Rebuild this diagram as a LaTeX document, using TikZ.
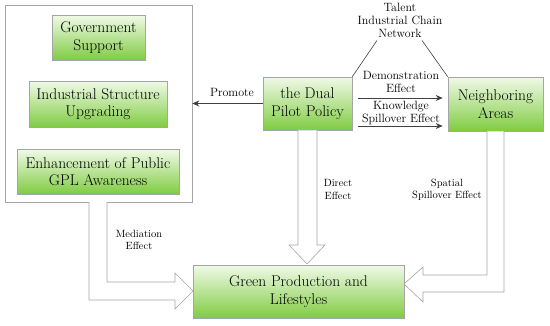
\documentclass[tikz,border=0pt]{standalone}
\usetikzlibrary{arrows.meta,calc,shadows}
\definecolor{gtop}{RGB}{240,250,232}
\definecolor{gbot}{RGB}{128,204,66}
\definecolor{edgegray}{RGB}{165,165,165}
\definecolor{arrgray}{RGB}{64,64,64}
\tikzset{
  gbox/.style={draw=edgegray, line width=0.6pt, top color=gtop, bottom color=gbot,
    align=center, inner sep=0pt, font=\fontsize{15.5}{17.5}\selectfont,
    drop shadow={shadow xshift=1pt, shadow yshift=-1pt, opacity=0.25, fill=gray}},
  lbl/.style={align=center, inner sep=0pt, font=\fontsize{10.5}{12.5}\selectfont},
  lblb/.style={align=center, inner sep=0pt, font=\fontsize{12}{13}\selectfont},
  arr/.style={draw=arrgray, line width=0.8pt, -{Stealth[length=7pt,width=6pt]}},
  hollow/.style={draw=edgegray, line width=0.6pt, fill=white, line join=miter},
}
\begin{document}
\begin{tikzpicture}[x=1pt,y=-1pt]
\useasboundingbox (0,0) rectangle (550,325);
% outer group box
\node[draw=edgegray, line width=0.6pt, minimum width=187pt, minimum height=197pt, inner sep=0pt] (group) at (98.5,103.5) {};
\node[gbox, minimum width=93pt, minimum height=45pt] (gov) at (98.5,37.5) {Government\\Support};
\node[gbox, minimum width=138pt, minimum height=46pt] (ind) at (98,104) {Industrial Structure\\Upgrading};
\node[gbox, minimum width=162pt, minimum height=45pt] (enh) at (98,171.5) {Enhancement of Public\\GPL Awareness};
\node[gbox, minimum width=89pt, minimum height=53pt] (dual) at (307.5,103.5) {the Dual\\Pilot Policy};
\node[gbox, minimum width=95pt, minimum height=54pt] (neigh) at (495.5,104) {Neighboring\\Areas};
% hollow arrows (drawn before the target box)
\draw[hollow] ([xshift=-9.5pt]dual.south) -- (298,245) -- (289,245) -- (307,264) -- (325,245) -- (317,245) -- ([xshift=9.5pt]dual.south);
\draw[hollow] (89,202) -- (89,300) -- (175,300) -- (175,309) -- (193,291) -- (175,273) -- (175,282) -- (107,282) -- (107,202);
\draw[hollow] ([xshift=8.5pt]neigh.south) -- (504,292) -- (423,292) -- (423,302) -- (404,284) -- (423,267) -- (423,275) -- (487,275) -- ([xshift=-8.5pt]neigh.south);
\node[gbox, minimum width=211pt, minimum height=53pt] (green) at (298.5,291.5) {Green Production and\\Lifestyles};
% talent network
\node[lblb] (talent) at (400,20) {Talent\\Industrial Chain\\Network};
\draw[arrgray, line width=0.6pt] (dual.north east) -- ($(talent.south)+(-23,3)$);
\draw[arrgray, line width=0.6pt] ($(talent.south)+(22,3)$) -- (neigh.north west);
% arrows
\draw[arr] (dual.west) -- (group.east);
\node[lblb] (promote) at (232,92) {Promote};
\draw[arr, shorten <=6pt, shorten >=5pt] ([yshift=5.5pt]dual.east) -- ([yshift=6pt]neigh.west);
\draw[arr, shorten <=6pt, shorten >=5pt] ([yshift=-22.5pt]dual.east) -- ([yshift=-22pt]neigh.west);
\node[lblb] (demo) at (401,81.5) {Demonstration\\Effect};
\node[lblb] (know) at (401,113) {Knowledge\\Spillover Effect};
\node[lbl] (direct) at (338,189.5) {Direct\\Effect};
\node[lbl] (spatial) at (447,190) {Spatial\\Spillover Effect};
\node[lbl] (medi) at (139,240) {Mediation\\Effect};
\end{tikzpicture}
\end{document}
